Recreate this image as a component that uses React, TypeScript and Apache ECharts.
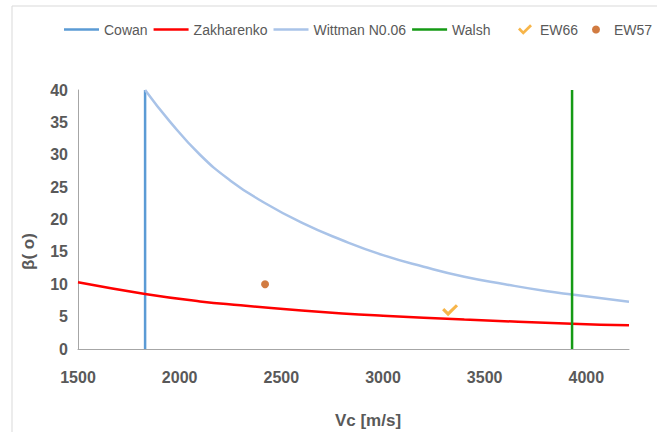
import React, { useEffect, useRef } from "react";
import * as echarts from "echarts";

const lineNames = ["Cowan", "Zakharenko", "Wittman N0.06", "Walsh"];

const cowanVc = [1830, 1830];
const cowanBeta = [0, 40];

const zakVc = [1500, 1830, 2100, 2300, 2600, 2800, 3000, 3400, 3930, 4210];
const zakBeta = [10.3, 8.5, 7.35, 6.75, 5.95, 5.5, 5.15, 4.55, 3.9, 3.65];

const wittVc = [1830, 1950, 2100, 2250, 2400, 2600, 2800, 3000, 3200, 3400, 3600, 3800, 3930, 4210];
const wittBeta = [40, 35.2, 30.0, 26.0, 22.9, 19.5, 16.8, 14.5, 12.7, 11.15, 10.0, 8.95, 8.4, 7.3];

const walshVc = [3930, 3930];
const walshBeta = [0, 40];

const ew66Vc = [3330];
const ew66Beta = [6.0];

const ew57Vc = [2420];
const ew57Beta = [10.0];

const xTicks = [1500, 2000, 2500, 3000, 3500, 4000];
const xMin = 1500;
const xMax = 4210;
const yMin = 0;
const yMax = 40;

const zip = (xs: number[], ys: number[]) => xs.map((x, i) => [x, ys[i]]);

const CHECK = "path://M0,6 L2.2,3.8 L6,7.6 L13.8,0 L16,2.2 L6,12 Z";
const FONT = "Liberation Sans, Arial, sans-serif";

export default function App() {
  const ref = useRef<HTMLDivElement>(null);
  useEffect(() => {
    if (!ref.current) return;
    const chart = echarts.init(ref.current, null, { renderer: "svg" });
    const labelColor = "#595959";
    const axisColor = "#a6a6a6";
    const legendText = { color: labelColor, fontSize: 14, fontFamily: FONT };
    chart.setOption({
      animation: false,
      backgroundColor: "#ffffff",
      textStyle: { fontFamily: FONT },
      graphic: [
        {
          type: "rect",
          shape: { x: 12, y: 6, width: 700, height: 500 },
          style: { fill: "none", stroke: "#d9d9d9", lineWidth: 1 },
          silent: true,
        },
        {
          type: "text",
          x: 368,
          y: 420,
          style: {
            text: "Vc [m/s]",
            fill: labelColor,
            font: "bold 17px " + FONT,
            align: "center",
            verticalAlign: "middle",
          },
        },
        {
          type: "text",
          x: 28.5,
          y: 251.5,
          rotation: Math.PI / 2,
          style: {
            text: "β( o)",
            fill: labelColor,
            font: "bold 17px " + FONT,
            align: "center",
            verticalAlign: "middle",
          },
        },
      ],
      legend: [
        {
          left: 64,
          top: 22.5,
          padding: 0,
          icon: "rect",
          itemWidth: 35,
          itemHeight: 2.5,
          itemGap: 6,
          textStyle: legendText,
          data: lineNames,
        },
        {
          left: 518,
          top: 22.5,
          padding: 0,
          itemWidth: 14,
          itemHeight: 12,
          textStyle: { ...legendText, padding: [0, 0, 0, 3] },
          data: [{ name: "EW66", icon: CHECK }],
        },
        {
          left: 592,
          top: 22.5,
          padding: 0,
          itemWidth: 8,
          itemHeight: 8,
          textStyle: { ...legendText, padding: [0, 0, 0, 9] },
          data: [{ name: "EW57", icon: "circle" }],
        },
      ],
      grid: { left: 78, top: 90, right: 657 - 629, bottom: 432 - 349, containLabel: false },
      xAxis: {
        type: "value",
        min: xMin,
        max: xMax,
        interval: 500,
        axisLine: { show: true, lineStyle: { color: axisColor, width: 1 } },
        axisTick: { show: false },
        splitLine: { show: false },
        axisLabel: {
          margin: 20,
          color: labelColor,
          fontSize: 16,
          fontWeight: "bold",
          showMaxLabel: false,
          formatter: (v: number) => (xTicks.includes(v) ? String(v) : ""),
        },
      },
      yAxis: {
        type: "value",
        min: yMin,
        max: yMax,
        interval: 5,
        axisLine: { show: true, lineStyle: { color: axisColor, width: 1 } },
        axisTick: { show: false },
        splitLine: { show: false },
        axisLabel: { margin: 10, color: labelColor, fontSize: 16, fontWeight: "bold" },
      },
      series: [
        {
          name: "Cowan",
          type: "line",
          data: zip(cowanVc, cowanBeta),
          symbol: "none",
          lineStyle: { color: "#5B9BD5", width: 2.5 },
          itemStyle: { color: "#5B9BD5" },
        },
        {
          name: "Zakharenko",
          type: "line",
          data: zip(zakVc, zakBeta),
          smooth: 0.5,
          symbol: "none",
          lineStyle: { color: "#FF0000", width: 2.5 },
          itemStyle: { color: "#FF0000" },
        },
        {
          name: "Wittman N0.06",
          type: "line",
          data: zip(wittVc, wittBeta),
          smooth: 0.5,
          symbol: "none",
          lineStyle: { color: "#A9C3E8", width: 2.5 },
          itemStyle: { color: "#A9C3E8" },
        },
        {
          name: "Walsh",
          type: "line",
          data: zip(walshVc, walshBeta),
          symbol: "none",
          lineStyle: { color: "#159A15", width: 2.5 },
          itemStyle: { color: "#159A15" },
        },
        {
          name: "EW66",
          type: "scatter",
          data: zip(ew66Vc, ew66Beta),
          symbol: CHECK,
          symbolSize: [16, 12],
          itemStyle: { color: "#F5A21C" },
        },
        {
          name: "EW57",
          type: "scatter",
          data: zip(ew57Vc, ew57Beta),
          symbol: "circle",
          symbolSize: 8,
          itemStyle: { color: "#C55A11" },
        },
      ],
    });
    return () => chart.dispose();
  }, []);
  return (
    <div
      ref={ref}
      style={{ position: "fixed", left: 0, top: 0, width: 657, height: 432, background: "#fff" }}
    />
  );
}
